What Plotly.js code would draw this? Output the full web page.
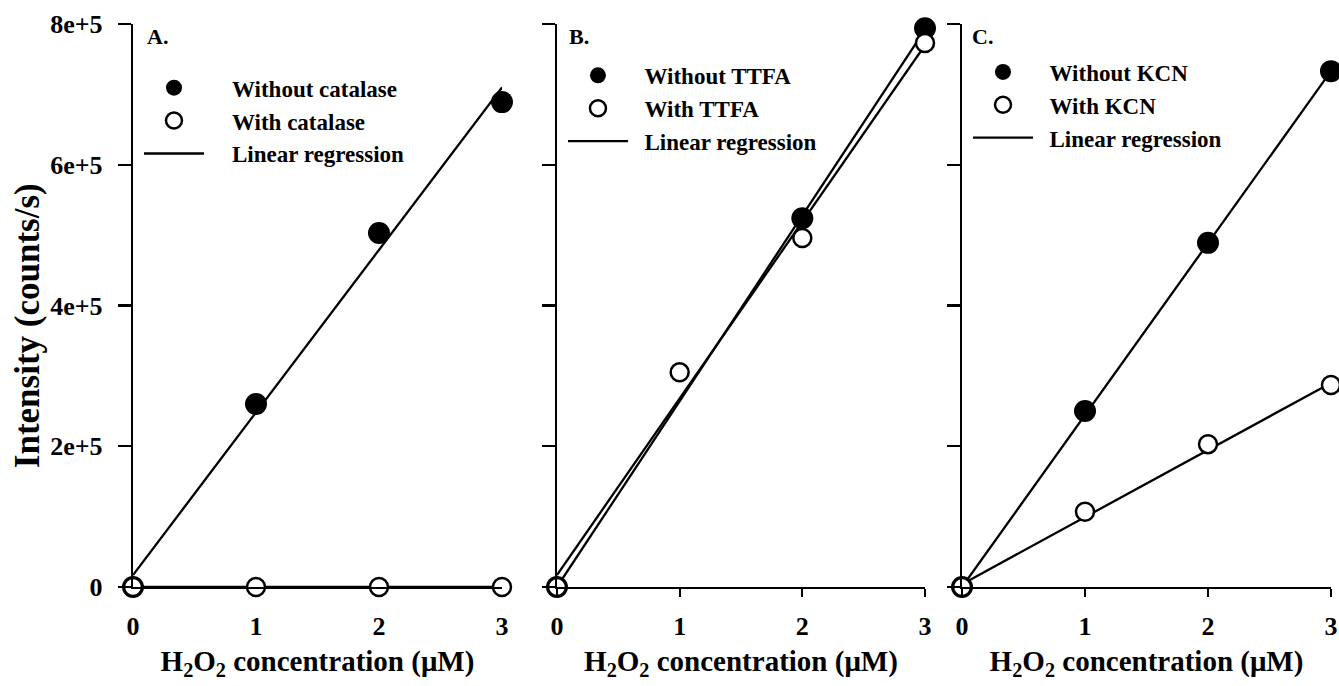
<!DOCTYPE html>
<html>
<head>
<meta charset="utf-8">
<script src="https://cdn.plot.ly/plotly-3.0.1.min.js"></script>
<style>html,body{margin:0;padding:0;background:#fff;}#chart{width:1339px;height:686px;}</style>
</head>
<body>
<div id="chart"></div>
<script>
// ---- data ----
const concentration = [0, 1, 2, 3];
const fitX = [0, 3];

// Panel A
const withoutCatalase = [0, 2.6e5, 5.03e5, 6.89e5];
const withCatalase = [0, 0, 0, 0];
const fitWithoutCatalase = [0.17e5, 7.1e5];
const fitWithCatalase = [0, 0];

// Panel B
const withoutTTFA = [0, null, 5.24e5, 7.94e5];
const withTTFA = [0, 3.05e5, 4.96e5, 7.73e5];
const fitWithoutTTFA = [0, 7.92e5];
const fitWithTTFA = [0.17e5, 7.7e5];

// Panel C
const withoutKCN = [0, 2.5e5, 4.89e5, 7.33e5];
const withKCN = [0, 1.07e5, 2.03e5, 2.87e5];
const fitWithoutKCN = [0, 7.33e5];
const fitWithKCN = [0.04e5, 2.9e5];

const yTickVals = [0, 2e5, 4e5, 6e5, 8e5];
const yTickText = ['0', '2e+5', '4e+5', '6e+5', '8e+5'];
const xTickVals = [0, 1, 2, 3];
const xTickText = ['0', '1', '2', '3'];

const panelLabels = ['A.', 'B.', 'C.'];
const legendNames = [
  ['Without catalase', 'With catalase'],
  ['Without TTFA', 'With TTFA'],
  ['Without KCN', 'With KCN']
];
const regressionName = 'Linear regression';
const xTitle = 'H<sub>2</sub>O<sub>2</sub> concentration (\u03bcM)';
const yTitle = 'Intensity (counts/s)';

// ---- styling ----
const FONT = 'Liberation Serif, Times New Roman, serif';
const filledMarker = {symbol: 'circle', size: 22, color: '#000', line: {width: 0}};
const openMarker = {symbol: 'circle', size: 18, color: '#fff', line: {color: '#000', width: 2.5}};
const fitLine = {color: '#000', width: 2.3};
const legendPad = ['\u2003', '\u2002', '\u2002'];

const panels = [
  {filled: withoutCatalase, open: withCatalase, fitF: fitWithoutCatalase, fitO: fitWithCatalase},
  {filled: withoutTTFA, open: withTTFA, fitF: fitWithoutTTFA, fitO: fitWithTTFA},
  {filled: withoutKCN, open: withKCN, fitF: fitWithoutKCN, fitO: fitWithKCN}
];

const traces = [];
panels.forEach((p, i) => {
  const ax = i === 0 ? '' : String(i + 1);
  const leg = i === 0 ? 'legend' : 'legend' + (i + 1);
  const pad = legendPad[i];
  traces.push({x: fitX, y: p.fitF, mode: 'lines', line: fitLine, name: pad + regressionName,
    xaxis: 'x' + ax, yaxis: 'y' + ax, legend: leg, legendrank: 3, showlegend: true, cliponaxis: false, hoverinfo: 'skip'});
  traces.push({x: fitX, y: p.fitO, mode: 'lines', line: fitLine, name: pad + regressionName,
    xaxis: 'x' + ax, yaxis: 'y' + ax, legend: leg, showlegend: false, cliponaxis: false, hoverinfo: 'skip'});
  traces.push({x: concentration, y: p.filled, mode: 'markers', marker: filledMarker, name: pad + legendNames[i][0],
    xaxis: 'x' + ax, yaxis: 'y' + ax, legend: leg, legendrank: 1, cliponaxis: false});
  traces.push({x: concentration, y: p.open, mode: 'markers', marker: openMarker, name: pad + legendNames[i][1],
    xaxis: 'x' + ax, yaxis: 'y' + ax, legend: leg, legendrank: 2, cliponaxis: false});
});

const domains = [[0, 0.308], [0.3539, 0.6611], [0.692, 1]];
const tickFont = {family: FONT, size: 26, color: '#000', weight: 'bold'};
const titleFont = {family: FONT, size: 29, color: '#000', weight: 'bold'};

const layout = {
  width: 1339, height: 686,
  margin: {l: 133, r: 8, t: 24, b: 99},
  paper_bgcolor: '#fff', plot_bgcolor: '#fff',
  font: {family: FONT, color: '#000'},
  annotations: [],
  showlegend: true
};

domains.forEach((d, i) => {
  const ax = i === 0 ? '' : String(i + 1);
  layout['xaxis' + ax] = {
    domain: d, range: [0, 3], anchor: 'y' + ax,
    showline: true, linecolor: '#000', linewidth: 2.3, mirror: false,
    showgrid: false, zeroline: false,
    ticks: i === 0 ? '' : 'outside', ticklen: 8, tickwidth: 2.3, tickcolor: '#000',
    tickvals: xTickVals, ticktext: xTickText, tickfont: tickFont,
    ticklabelstandoff: i === 0 ? 14 : 6,
    title: {text: xTitle, font: titleFont, standoff: 11}
  };
  const yax = {
    domain: [0, 1], range: [0, 8e5], anchor: 'x' + ax,
    showline: true, linecolor: '#000', linewidth: 2.3,
    showgrid: false, zeroline: false,
    ticks: 'outside', ticklen: 13, tickwidth: 2.3, tickcolor: '#000',
    tickvals: yTickVals, showticklabels: i === 0
  };
  if (i === 0) {
    yax.ticktext = yTickText;
    yax.tickfont = tickFont;
    yax.ticklabelstandoff = 10;
  }
  layout['yaxis' + ax] = yax;
  layout.annotations.push({
    text: panelLabels[i], xref: 'x' + ax + ' domain', yref: 'y' + ax + ' domain',
    x: [0.033, 0.027, 0.022][i], y: 0.977, xanchor: 'left', yanchor: 'middle', showarrow: false,
    font: {family: FONT, size: 22, color: '#000', weight: 'bold'}
  });
});

// y-axis title, placed to match the reference's vertical position
layout.annotations.push({
  text: yTitle, xref: 'paper', yref: 'paper', x: -0.0885, y: 0.465,
  xanchor: 'center', yanchor: 'middle', textangle: -90, showarrow: false,
  font: {family: FONT, size: 35, color: '#000', weight: 'bold'}
});

const legendBase = {
  bgcolor: 'rgba(0,0,0,0)', borderwidth: 0,
  font: {family: FONT, size: 23, color: '#000', weight: 'bold'},
  xanchor: 'left', yanchor: 'top', itemwidth: 60, tracegroupgap: 0, itemsizing: 'trace'
};
layout.legend = Object.assign({}, legendBase, {x: 0.005, y: 0.925});
layout.legend2 = Object.assign({}, legendBase, {x: 0.3589, y: 0.947});
layout.legend3 = Object.assign({}, legendBase, {x: 0.697, y: 0.953});

Plotly.newPlot('chart', traces, layout, {displayModeBar: false, staticPlot: true});
</script>
</body>
</html>
